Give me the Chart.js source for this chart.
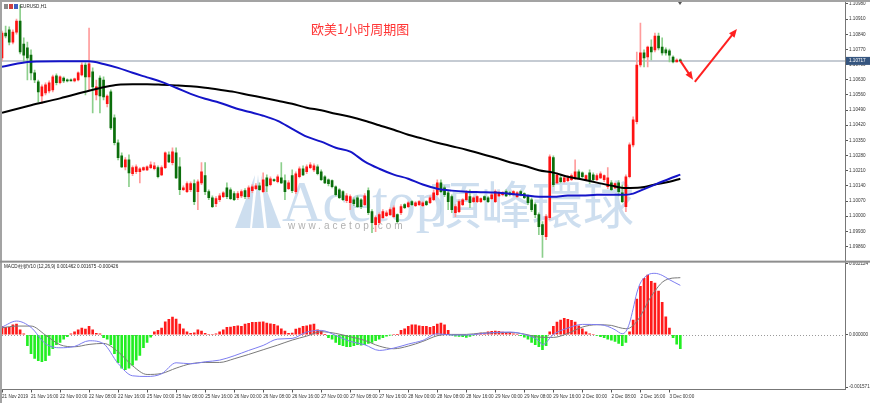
<!DOCTYPE html>
<html>
<head>
<meta charset="utf-8">
<script src="https://cdn.jsdelivr.net/npm/chart.js@4.4.1/dist/chart.umd.min.js"></script>
<style>
  html, body { margin: 0; padding: 0; background: #fff; }
  canvas { display: block; }
</style>
</head>
<body>
<canvas id="myChart" width="870" height="403"></canvas>
<script>
const chartTitle = '欧美1小时周期图';
const symbolLabel = 'EURUSD,H1';
const macdLabel = 'MACD柱状V10 (12,26,9) 0.001462 0.001675 -0.000426';

// one label every 8 hourly bars
const barsPerLabel = 8;
const timeLabels = ['21 Nov 2019', '21 Nov 16:00', '22 Nov 00:00', '22 Nov 08:00', '22 Nov 16:00',
  '25 Nov 00:00', '25 Nov 08:00', '25 Nov 16:00', '26 Nov 00:00', '26 Nov 08:00', '26 Nov 16:00',
  '27 Nov 00:00', '27 Nov 08:00', '27 Nov 16:00', '28 Nov 00:00', '28 Nov 08:00', '28 Nov 16:00',
  '29 Nov 00:00', '29 Nov 08:00', '29 Nov 16:00', '2 Dec 00:00', '2 Dec 08:00', '2 Dec 16:00', '3 Dec 00:00'];

const priceTicks = [1.09860, 1.09930, 1.10000, 1.10070, 1.10140, 1.10210, 1.10280, 1.10350, 1.10420,
  1.10490, 1.10560, 1.10630, 1.10700, 1.10770, 1.10840, 1.10910, 1.10980];
const macdTicks = [-0.001571, 0, 0.002124];

// [open, high, low, close]
const candles = [
  // 21 Nov
  [1.10731,1.10855,1.10717,1.10846],[1.10846,1.10878,1.10823,1.10832],[1.10860,1.10874,1.10791,1.10804],[1.10804,1.10860,1.10795,1.10850],
  [1.10850,1.10910,1.10841,1.10901],[1.10901,1.10975,1.10749,1.10758],[1.10795,1.10823,1.10712,1.10744],[1.10777,1.10804,1.10629,1.10731],
  [1.10744,1.10768,1.10629,1.10662],[1.10662,1.10675,1.10616,1.10629],[1.10620,1.10629,1.10528,1.10574],[1.10555,1.10606,1.10519,1.10597],
  [1.10569,1.10616,1.10560,1.10606],[1.10578,1.10625,1.10569,1.10616],[1.10583,1.10652,1.10574,1.10643],[1.10648,1.10657,1.10606,1.10616],
  // 22 Nov
  [1.10616,1.10648,1.10611,1.10643],[1.10638,1.10643,1.10616,1.10625],[1.10629,1.10634,1.10620,1.10625],[1.10629,1.10634,1.10625,1.10625],
  [1.10625,1.10638,1.10620,1.10634],[1.10629,1.10666,1.10625,1.10662],[1.10652,1.10708,1.10648,1.10698],[1.10698,1.10708,1.10560,1.10643],
  [1.10643,1.10869,1.10583,1.10703],[1.10666,1.10685,1.10477,1.10597],[1.10560,1.10629,1.10537,1.10597],[1.10638,1.10648,1.10477,1.10555],
  [1.10629,1.10643,1.10537,1.10551],[1.10519,1.10560,1.10505,1.10555],[1.10574,1.10583,1.10399,1.10408],[1.10454,1.10468,1.10329,1.10339],
  [1.10339,1.10352,1.10260,1.10270],[1.10279,1.10293,1.10224,1.10228],[1.10228,1.10270,1.10214,1.10260],[1.10260,1.10283,1.10136,1.10200],
  [1.10196,1.10233,1.10187,1.10224],[1.10205,1.10237,1.10196,1.10228],[1.10205,1.10224,1.10154,1.10219],[1.10214,1.10228,1.10210,1.10224],
  // 25 Nov
  [1.10214,1.10233,1.10210,1.10228],[1.10224,1.10251,1.10219,1.10237],[1.10219,1.10247,1.10214,1.10233],[1.10224,1.10233,1.10177,1.10182],
  [1.10191,1.10233,1.10187,1.10224],[1.10224,1.10297,1.10219,1.10293],[1.10283,1.10297,1.10247,1.10251],[1.10247,1.10316,1.10237,1.10297],
  [1.10293,1.10316,1.10173,1.10177],[1.10228,1.10270,1.10099,1.10122],[1.10122,1.10140,1.10118,1.10131],[1.10113,1.10159,1.10108,1.10150],
  [1.10122,1.10159,1.10113,1.10150],[1.10150,1.10168,1.10053,1.10067],[1.10113,1.10168,1.10030,1.10159],[1.10154,1.10247,1.10145,1.10205],
  [1.10187,1.10247,1.10099,1.10113],[1.10113,1.10122,1.10076,1.10085],[1.10085,1.10094,1.10039,1.10044],[1.10058,1.10090,1.10044,1.10081],
  [1.10076,1.10104,1.10067,1.10094],[1.10090,1.10113,1.10085,1.10108],[1.10131,1.10154,1.10081,1.10090],[1.10122,1.10131,1.10076,1.10081],
  // 26 Nov
  [1.10104,1.10113,1.10072,1.10076],[1.10085,1.10113,1.10076,1.10104],[1.10094,1.10122,1.10085,1.10113],[1.10118,1.10127,1.10081,1.10090],
  [1.10090,1.10140,1.10081,1.10131],[1.10118,1.10145,1.10108,1.10136],[1.10127,1.10150,1.10122,1.10140],[1.10140,1.10154,1.10118,1.10122],
  [1.10113,1.10200,1.10108,1.10168],[1.10177,1.10191,1.10113,1.10140],[1.10145,1.10182,1.10140,1.10173],[1.10168,1.10173,1.10159,1.10164],
  [1.10159,1.10191,1.10154,1.10182],[1.10177,1.10247,1.10150,1.10154],[1.10164,1.10191,1.10076,1.10113],[1.10127,1.10164,1.10122,1.10154],
  [1.10187,1.10214,1.10108,1.10118],[1.10113,1.10205,1.10104,1.10196],[1.10182,1.10228,1.10177,1.10219],[1.10219,1.10233,1.10187,1.10191],
  [1.10205,1.10237,1.10196,1.10228],[1.10224,1.10247,1.10219,1.10237],[1.10214,1.10242,1.10205,1.10233],[1.10228,1.10237,1.10191,1.10196],
  // 27 Nov
  [1.10205,1.10214,1.10164,1.10168],[1.10182,1.10187,1.10150,1.10154],[1.10168,1.10173,1.10140,1.10150],[1.10164,1.10168,1.10131,1.10136],
  [1.10136,1.10140,1.10094,1.10099],[1.10122,1.10127,1.10081,1.10085],[1.10113,1.10118,1.10072,1.10076],[1.10072,1.10104,1.10062,1.10094],
  [1.10062,1.10099,1.10030,1.10090],[1.10076,1.10085,1.10048,1.10058],[1.10085,1.10094,1.10039,1.10044],[1.10076,1.10081,1.10035,1.10044],
  [1.10053,1.10104,1.10048,1.10094],[1.10118,1.10131,1.10007,1.10016],[1.10021,1.10030,1.09924,1.09970],[1.09961,1.10002,1.09929,1.09993],
  [1.09970,1.10016,1.09961,1.10007],[1.09993,1.10030,1.09988,1.10021],[1.10002,1.10025,1.09998,1.10016],[1.10007,1.10039,1.10002,1.10030],
  [1.09998,1.10048,1.09993,1.10039],[1.10007,1.10011,1.09970,1.09975],[1.10016,1.10053,1.10007,1.10044],[1.10053,1.10058,1.10035,1.10039],
  // 28 Nov
  [1.10044,1.10067,1.10039,1.10062],[1.10067,1.10072,1.10048,1.10053],[1.10048,1.10067,1.10044,1.10062],[1.10053,1.10072,1.10048,1.10067],
  [1.10048,1.10067,1.10044,1.10062],[1.10067,1.10072,1.10048,1.10053],[1.10062,1.10094,1.10058,1.10085],[1.10076,1.10122,1.10072,1.10108],
  [1.10099,1.10168,1.10094,1.10154],[1.10154,1.10168,1.10108,1.10113],[1.10131,1.10140,1.10090,1.10099],[1.10108,1.10118,1.10030,1.10067],
  [1.10090,1.10099,1.10016,1.10030],[1.10016,1.10053,1.09998,1.10044],[1.10021,1.10076,1.10016,1.10067],[1.10053,1.10081,1.10048,1.10076],
  [1.10076,1.10118,1.10072,1.10108],[1.10090,1.10122,1.10039,1.10062],[1.10067,1.10090,1.10062,1.10085],[1.10067,1.10094,1.10062,1.10090],
  [1.10067,1.10085,1.10062,1.10081],[1.10090,1.10094,1.10072,1.10076],[1.10085,1.10090,1.10062,1.10067],[1.10081,1.10104,1.10076,1.10099],
  // 29 Nov
  [1.10067,1.10122,1.10062,1.10113],[1.10094,1.10113,1.10090,1.10108],[1.10099,1.10113,1.10094,1.10108],[1.10113,1.10122,1.10090,1.10094],
  [1.10108,1.10113,1.10094,1.10099],[1.10099,1.10118,1.10094,1.10113],[1.10090,1.10113,1.10085,1.10108],[1.10113,1.10118,1.10094,1.10099],
  [1.10104,1.10108,1.10081,1.10085],[1.10094,1.10099,1.10053,1.10062],[1.10076,1.10085,1.10021,1.10030],[1.10053,1.10062,1.09993,1.10007],
  [1.10007,1.10016,1.09915,1.09952],[1.09961,1.09975,1.09809,1.09915],[1.09905,1.10007,1.09892,1.09998],[1.09993,1.10283,1.09984,1.10274],
  [1.10270,1.10279,1.10136,1.10145],[1.10154,1.10200,1.10150,1.10191],[1.10177,1.10187,1.10154,1.10159],[1.10159,1.10187,1.10154,1.10177],
  [1.10164,1.10187,1.10159,1.10177],[1.10168,1.10196,1.10164,1.10187],[1.10177,1.10260,1.10168,1.10205],[1.10205,1.10214,1.10173,1.10177],
  // 2 Dec
  [1.10200,1.10205,1.10177,1.10182],[1.10168,1.10191,1.10164,1.10187],[1.10200,1.10214,1.10150,1.10168],[1.10191,1.10200,1.10164,1.10168],
  [1.10168,1.10196,1.10164,1.10187],[1.10177,1.10205,1.10173,1.10196],[1.10168,1.10191,1.10159,1.10187],[1.10136,1.10224,1.10127,1.10177],
  [1.10154,1.10164,1.10118,1.10122],[1.10131,1.10154,1.10127,1.10150],[1.10154,1.10164,1.10094,1.10113],[1.10108,1.10145,1.10062,1.10067],
  [1.10044,1.10191,1.10021,1.10182],[1.10182,1.10339,1.10177,1.10329],[1.10329,1.10459,1.10320,1.10445],[1.10436,1.10758,1.10426,1.10698],
  [1.10698,1.10892,1.10689,1.10754],[1.10754,1.10768,1.10689,1.10731],[1.10735,1.10786,1.10689,1.10781],[1.10781,1.10814,1.10721,1.10758],
  [1.10768,1.10846,1.10758,1.10832],[1.10832,1.10846,1.10768,1.10777],[1.10781,1.10823,1.10744,1.10754],[1.10768,1.10777,1.10744,1.10754],
  // 3 Dec
  [1.10763,1.10772,1.10712,1.10744],[1.10735,1.10740,1.10708,1.10712],[1.10712,1.10726,1.10712,1.10721],[1.10721,1.10726,1.10712,1.10717]
];

// moving averages, [bar, price]
const maFast = [[0,1.10690],[8,1.10713],[16,1.10715],[24,1.10715],[28,1.10703],[32,1.10685],[36,1.10662],[40,1.10641],
  [44,1.10620],[48,1.10593],[52,1.10565],[56,1.10542],[60,1.10524],[64,1.10501],[68,1.10482],[72,1.10464],[76,1.10440],
  [80,1.10403],[84,1.10367],[88,1.10344],[92,1.10316],[96,1.10298],[100,1.10252],[104,1.10219],[108,1.10192],[112,1.10173],
  [116,1.10146],[120,1.10127],[124,1.10118],[128,1.10113],[132,1.10111],[136,1.10109],[140,1.10104],[144,1.10097],
  [148,1.10090],[152,1.10090],[156,1.10095],[160,1.10095],[164,1.10099],[168,1.10099],[172,1.10099],[174,1.10104],
  [176,1.10118],[180,1.10146],[184,1.10173],[187,1.10192]];
const maSlow = [[0,1.10478],[8,1.10512],[16,1.10544],[24,1.10579],[28,1.10595],[32,1.10607],[36,1.10609],[40,1.10609],
  [44,1.10607],[48,1.10604],[52,1.10600],[56,1.10593],[60,1.10584],[64,1.10574],[68,1.10560],[72,1.10547],[76,1.10533],
  [80,1.10519],[84,1.10501],[88,1.10489],[92,1.10473],[96,1.10459],[100,1.10441],[104,1.10420],[108,1.10399],[112,1.10376],
  [116,1.10358],[120,1.10339],[124,1.10323],[128,1.10307],[132,1.10288],[136,1.10270],[140,1.10249],[144,1.10233],
  [148,1.10212],[152,1.10201],[156,1.10182],[160,1.10169],[164,1.10155],[168,1.10141],[172,1.10130],[176,1.10132],
  [180,1.10146],[184,1.10159],[187,1.10173]];

// MACD histogram, one value per bar
const macdHist = [
  0.00025, 0.00022, 0.00022, 0.00030, 0.00032, 0.00015, 0.00003, -0.00033, -0.00057, -0.00071,
  -0.00078, -0.00081, -0.00078, -0.00062, -0.00042, -0.00030, -0.00023, -0.00013, -0.00006, 0.00003,
  0.00009, 0.00015, 0.00020, 0.00017, 0.00025, 0.00015, 0.00004, 0.00003, -0.00009, -0.00013,
  -0.00030, -0.00057, -0.00084, -0.00100, -0.00105, -0.00100, -0.00091, -0.00076, -0.00062, -0.00039,
  -0.00023, -0.00007, 0.00009, 0.00013, 0.00020, 0.00039, 0.00046, 0.00053, 0.00047, 0.00032,
  0.00018, 0.00009, 0.00004, 0.00006, 0.00015, 0.00011, 0.00004, 0, 0, 0.00003,
  0.00009, 0.00015, 0.00022, 0.00023, 0.00025, 0.00027, 0.00025, 0.00032, 0.00034, 0.00037,
  0.00037, 0.00038, 0.00039, 0.00035, 0.00033, 0.00031, 0.00027, 0.00018, 0.00011, 0.00004,
  0.00005, 0.00017, 0.00020, 0.00025, 0.00027, 0.00030, 0.00032, 0.00015, 0.00011, 0.00001,
  -0.00009, -0.00013, -0.00023, -0.00030, -0.00033, -0.00036, -0.00036, -0.00033, -0.00030, -0.00031,
  -0.00030, -0.00026, -0.00023, -0.00018, -0.00013, -0.00009, -0.00004, -0.00001, 0, 0.00001,
  0.00013, 0.00018, 0.00025, 0.00030, 0.00030, 0.00027, 0.00025, 0.00025, 0.00022, 0.00025,
  0.00032, 0.00035, 0.00030, 0.00013, -0.00001, -0.00004, -0.00005, -0.00006, -0.00008, -0.00005,
  -0.00001, 0.00003, 0.00005, 0.00005, 0.00009, 0.00010, 0.00011, 0.00010, 0.00008, 0.00006,
  0.00005, 0.00003, 0, -0.00003, -0.00007, -0.00013, -0.00023, -0.00030, -0.00036, -0.00045,
  -0.00033, 0.00009, 0.00025, 0.00038, 0.00044, 0.00049, 0.00046, 0.00043, 0.00038, 0.00027,
  0.00018, 0.00009, 0.00003, 0, -0.00002, -0.00006, -0.00009, -0.00013, -0.00016, -0.00020,
  -0.00026, -0.00033, -0.00023, 0.00009, 0.00044, 0.00107, 0.00145, 0.00169, 0.00179, 0.00160,
  0.00155, 0.00131, 0.00097, 0.00054, 0.00020, -0.00009, -0.00028, -0.00042
];
// MACD lines, [bar, value]
const macdMain = [[0,0.00023],[4,0.00041],[8,0.00022],[12,-0.00027],[16,-0.00039],[20,-0.00035],[24,-0.00018],
  [28,-0.00027],[32,-0.00086],[36,-0.00123],[40,-0.00125],[44,-0.00117],[48,-0.00084],[52,-0.00087],[56,-0.00081],
  [60,-0.00076],[64,-0.00063],[68,-0.00047],[72,-0.00032],[76,-0.00013],[80,-0.00011],[84,0.00008],[88,0.00013],
  [92,-0.00002],[96,-0.00020],[100,-0.00030],[104,-0.00047],[108,-0.00040],[112,-0.00028],[116,-0.00017],[120,0.00003],
  [124,-0.00001],[128,-0.00001],[132,0.00003],[136,0.00007],[140,0.00008],[144,0.00001],[148,-0.00018],[149,-0.00030],
  [152,0.00001],[156,0.00020],[160,0.00031],[165,0.00030],[167,0.00025],[169,0.00015],[171,0.00003],[172,0.00010],
  [173,0.00035],[174,0.00078],[175,0.00125],[176,0.00155],[178,0.00179],[180,0.00184],[182,0.00178],[184,0.00165],[187,0.00148]];
const macdSignal = [[0,0.00021],[4,0.00026],[8,0.00026],[12,-0.00001],[16,-0.00030],[20,-0.00036],[24,-0.00029],
  [28,-0.00026],[32,-0.00051],[36,-0.00093],[40,-0.00119],[44,-0.00116],[48,-0.00100],[52,-0.00087],[56,-0.00083],
  [60,-0.00083],[64,-0.00072],[68,-0.00059],[72,-0.00045],[76,-0.00031],[80,-0.00016],[84,-0.00004],[88,0.00009],
  [92,0.00004],[96,-0.00006],[100,-0.00017],[104,-0.00034],[108,-0.00042],[112,-0.00034],[116,-0.00020],[120,-0.00003],
  [124,0.00001],[128,0.00001],[132,0.00005],[136,0.00006],[140,0.00007],[144,0.00002],[148,-0.00007],[152,-0.00008],
  [156,0.00004],[160,0.00023],[164,0.00030],[168,0.00028],[170,0.00022],[172,0.00018],[173,0.00020],[175,0.00040],
  [177,0.00075],[178,0.00097],[180,0.00131],[182,0.00157],[184,0.00168],[187,0.00171]];

// hand-drawn forecast arrows, [bar, price]
const arrowLegs = [
  [[187, 1.10717], [190.5, 1.10630]],
  [[191, 1.10620], [202.6, 1.10864]]
];

let ctx = document.getElementById('myChart').getContext('2d');

const isUp = c => c[3] >= c[0];
const pts = arr => arr.map(p => ({x: p[0], y: p[1]}));
const tickFont = {family: 'Liberation Sans', size: 4.6, lineHeight: 1.2};

const decor = {
  id: 'decor',
  beforeDatasetsDraw(chart) {
    const {ctx, chartArea: a, scales} = chart;
    ctx.save();
    // watermark
    ctx.fillStyle = 'rgba(178,204,230,0.65)';
    [[235, 250, 255], [252, 264, 258], [267, 281, 261]].forEach(t => {
      ctx.beginPath();
      ctx.moveTo(t[0], 228); ctx.lineTo(t[1], 228); ctx.lineTo(t[2], 175);
      ctx.closePath(); ctx.fill();
    });
    ctx.textBaseline = 'alphabetic';
    ctx.font = '56px "Liberation Serif"';
    ctx.fillText('Acetop', 282, 221);
    ctx.font = '51px "Noto Sans CJK TC"';
    ctx.textBaseline = 'middle';
    ctx.fillText('頂峰環球', 430, 205);
    ctx.fillStyle = 'rgba(150,150,150,0.75)';
    ctx.font = '10px "Liberation Sans"';
    ctx.letterSpacing = '3px';
    ctx.textBaseline = 'alphabetic';
    ctx.fillText('www.acetop.com', 288, 229);
    ctx.letterSpacing = '0px';

    // current price line
    const py = Math.round(scales.y.getPixelForValue(candles[candles.length - 1][3]));
    ctx.fillStyle = '#c5cbd3';
    ctx.fillRect(a.left, py - 1, a.right - a.left, 2);

    // zero line of the MACD pane
    const zy = Math.round(scales.y2.getPixelForValue(0)) + 0.5;
    ctx.strokeStyle = '#9a9a9a';
    ctx.lineWidth = 1;
    ctx.setLineDash([1, 2]);
    ctx.beginPath(); ctx.moveTo(a.left, zy); ctx.lineTo(a.right, zy); ctx.stroke();
    ctx.restore();
  },
  afterDatasetsDraw(chart) {
    const {ctx, scales: {x, y}} = chart;
    ctx.save();
    ctx.strokeStyle = '#ff2020';
    ctx.fillStyle = '#ff2020';
    ctx.lineWidth = 2;
    arrowLegs.forEach(leg => {
      const x1 = x.getPixelForValue(leg[0][0]), y1 = y.getPixelForValue(leg[0][1]);
      const x2 = x.getPixelForValue(leg[1][0]), y2 = y.getPixelForValue(leg[1][1]);
      const ang = Math.atan2(y2 - y1, x2 - x1), len = 9;
      ctx.beginPath(); ctx.moveTo(x1, y1);
      ctx.lineTo(x2 - 5 * Math.cos(ang), y2 - 5 * Math.sin(ang)); ctx.stroke();
      ctx.beginPath(); ctx.moveTo(x2, y2);
      ctx.lineTo(x2 - len * Math.cos(ang - 0.4), y2 - len * Math.sin(ang - 0.4));
      ctx.lineTo(x2 - len * Math.cos(ang + 0.4), y2 - len * Math.sin(ang + 0.4));
      ctx.closePath(); ctx.fill();
    });
    ctx.restore();
  },
  afterDraw(chart) {
    const {ctx, chartArea: a, scales: {x, y, y2}} = chart;
    ctx.save();
    // window frame
    ctx.fillStyle = '#a3a3a3';
    ctx.fillRect(0, 0, 870, 2);
    ctx.fillRect(0, 0, 2, 403);
    ctx.fillStyle = '#8e8e8e';
    ctx.fillRect(0, y2.top - 1, 870, 2);

    // shift marker
    const sx = Math.round(x.getPixelForValue(candles.length - 1));
    ctx.fillStyle = '#555';
    ctx.beginPath(); ctx.moveTo(sx - 2, 2); ctx.lineTo(sx + 2, 2); ctx.lineTo(sx, 5); ctx.closePath(); ctx.fill();

    // current price box
    const last = candles[candles.length - 1][3];
    const py = y.getPixelForValue(last);
    ctx.fillStyle = '#35557f';
    ctx.fillRect(a.right + 1, py - 4, 24, 8);
    ctx.fillStyle = '#fff';
    ctx.font = '4.6px "Liberation Sans"';
    ctx.textBaseline = 'middle';
    ctx.fillText(last.toFixed(5), a.right + 4, py);

    // pane captions
    ctx.fillStyle = '#8a8a8a'; ctx.fillRect(4, 4, 4, 5);
    ctx.fillStyle = '#d04040'; ctx.fillRect(9, 4, 4, 5);
    ctx.fillStyle = '#4060c0'; ctx.fillRect(14, 4, 4, 5);
    ctx.fillStyle = '#222';
    ctx.fillText(symbolLabel, 20, 7);
    ctx.fillText(macdLabel, 4, y2.top + 5);

    // title
    ctx.fillStyle = '#ff3535';
    ctx.font = '13px "Noto Sans CJK SC"';
    ctx.fillText(chartTitle, 311, 29);
    ctx.restore();
  }
};

const myChart = new Chart(ctx, {
  type: 'bar',
  data: {
    datasets: [
      {
        type: 'line', label: 'MA fast', data: pts(maFast), xAxisID: 'x', yAxisID: 'y',
        borderColor: '#1414c8', borderWidth: 2, pointRadius: 0, cubicInterpolationMode: 'monotone', order: 1
      },
      {
        type: 'line', label: 'MA slow', data: pts(maSlow), xAxisID: 'x', yAxisID: 'y',
        borderColor: '#000000', borderWidth: 2, pointRadius: 0, cubicInterpolationMode: 'monotone', order: 2
      },
      {
        label: 'body', data: candles.map((c, i) => ({x: i, y: [c[0], c[3]]})), xAxisID: 'x', yAxisID: 'y',
        backgroundColor: candles.map(c => isUp(c) ? '#ff1212' : '#0b6e0b'),
        barThickness: 2, minBarLength: 1, grouped: false, order: 3
      },
      {
        label: 'wick', data: candles.map((c, i) => ({x: i, y: [c[2], c[1]]})), xAxisID: 'x', yAxisID: 'y',
        backgroundColor: candles.map(c => isUp(c) ? '#ff9c9c' : '#8ccf8c'),
        barThickness: 1, grouped: false, order: 4
      },
      {
        type: 'line', label: 'MACD', data: pts(macdMain), xAxisID: 'x', yAxisID: 'y2',
        borderColor: '#7d7df0', borderWidth: 1, pointRadius: 0, cubicInterpolationMode: 'monotone', order: 1
      },
      {
        type: 'line', label: 'Signal', data: pts(macdSignal), xAxisID: 'x', yAxisID: 'y2',
        borderColor: '#7a7a7a', borderWidth: 1, pointRadius: 0, cubicInterpolationMode: 'monotone', order: 2
      },
      {
        label: 'Hist', data: macdHist.map((v, i) => ({x: i, y: v})), xAxisID: 'x', yAxisID: 'y2',
        backgroundColor: macdHist.map(v => v >= 0 ? '#ff1a1a' : '#22ee22'),
        barThickness: 2, grouped: false, order: 3
      }
    ]
  },
  options: {
    responsive: false,
    animation: false,
    devicePixelRatio: 1,
    layout: {padding: {left: 2, top: 2, right: 0, bottom: 3}},
    plugins: {legend: {display: false}, tooltip: {enabled: false}},
    scales: {
      x: {
        type: 'linear', min: 0, max: 232.4, offset: false,
        grid: {drawOnChartArea: false, drawTicks: true, tickLength: 3, color: '#555', offset: false},
        border: {color: '#777'},
        ticks: {
          font: tickFont, color: '#333', align: 'start', maxRotation: 0, autoSkip: false, padding: 1,
          callback: (v, i) => timeLabels[i]
        },
        afterBuildTicks: s => { s.ticks = timeLabels.map((t, k) => ({value: k * barsPerLabel})); },
        afterFit: s => { s.paddingLeft = 0; s.paddingRight = 0; }
      },
      y: {
        position: 'right', stack: 'panes', stackWeight: 260,
        min: 1.09790, max: 1.10989,
        grid: {drawOnChartArea: false, drawTicks: true, tickLength: 3, color: '#555'},
        border: {color: '#777'},
        ticks: {font: tickFont, color: '#333', padding: 1, autoSkip: false, callback: v => v.toFixed(5)},
        afterBuildTicks: s => { s.ticks = priceTicks.map(v => ({value: v})); },
        afterFit: s => { s.width = 25; s.paddingTop = 0; s.paddingBottom = 0; }
      },
      y2: {
        position: 'right', stack: 'panes', stackWeight: 128,
        min: -0.00164, max: 0.00219,
        grid: {drawOnChartArea: false, drawTicks: true, tickLength: 3, color: '#555'},
        border: {color: '#777'},
        ticks: {font: tickFont, color: '#333', padding: 1, autoSkip: false, callback: v => v.toFixed(6)},
        afterBuildTicks: s => { s.ticks = macdTicks.map(v => ({value: v})); },
        afterFit: s => { s.width = 25; s.paddingTop = 0; s.paddingBottom = 0; }
      }
    }
  },
  plugins: [decor]
});
</script>
</body>
</html>
